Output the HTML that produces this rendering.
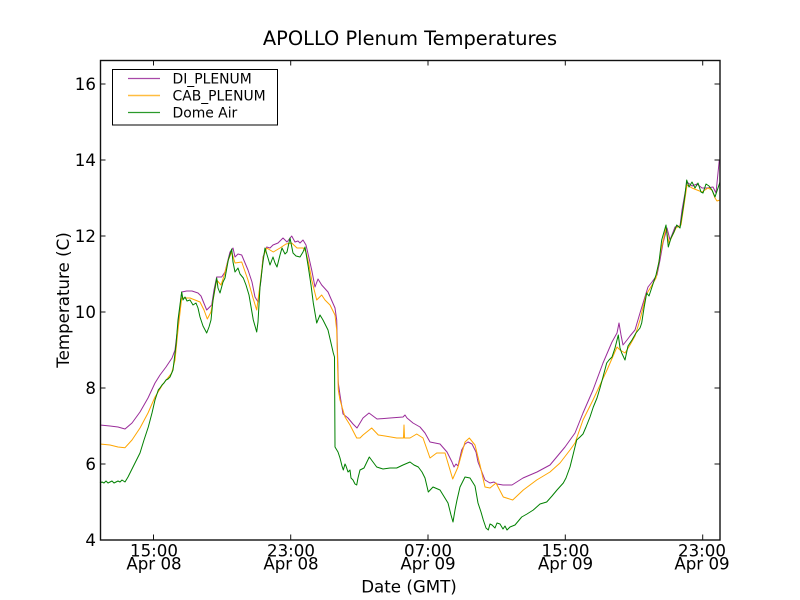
<!DOCTYPE html>
<html>
<head>
<meta charset="utf-8">
<style>
  html, body { margin: 0; padding: 0; background: #fff; }
  svg { display: block; }
  text { font-family: "DejaVu Sans", "Liberation Sans", sans-serif; fill: #000; }
</style>
</head>
<body>
<svg width="800" height="600" viewBox="0 0 800 600" xmlns="http://www.w3.org/2000/svg">
  <rect x="0" y="0" width="800" height="600" fill="#fff"/>

  <!-- Title -->
  <text x="410" y="45" font-size="19.4" text-anchor="middle">APOLLO Plenum Temperatures</text>

  <!-- Series -->
  <g fill="none" stroke-width="1" stroke-linejoin="round">
    <polyline stroke="#9a2c9a" points="100,425 110,426 118,427 125,429 132,423 140,412 148,398 155,383 160,375 166,367 172,358 175,350 178,325 181.7,292 186.7,291 192,291 198,293 201,296 206.7,310 211.7,305 214,290 216.7,277 221.7,277 225,272 230,252 233,248 235,257 238,254 241.7,255 248,270 252,282 255,297 258,302 261,280 263,257 266.7,247 270,248 273,245 278,243 283,238 287,242 291.7,236 295,242 298,241 300,243 303,240 306,245 309,258 311.7,270 315,287 318,279 321.7,285 328,292 335,308 336.7,320 338.3,383 340,395 343,414 348,418 353,424 357,428 360,423 363,418 369,413 377,419 390,418 403,417 405,415 407,418 413,423 420,427 425,433 430,442 440,444 447,452 452,462 454,467 456,464 458,466 461.7,450 465,444 468,442 472,444 476,452 478,462 485,480 490,483 494,482 497,484 503,485 512,485 523,478 537,472 550,465 560,453 565,447 570,440 575,433 583,413 593,390 603,363 612,342 617,333 619,323 621,335 623,345 627,340 630,336 635,330 640,313 644,300 648,287 652,282 657,275 660,260 663,243 667,228 670,240 675,227 680,226 682,210 687,182 692,186 697,184 702,188 707,188 713,187 716,193 719.3,160"/>
    <polyline stroke="#ffa500" points="100,444 110,445 118,447 125,447.7 132,440 140,428 148,413 155,397 163,384 171.7,373 175,360 178,330 181.7,298 190,298 200,302 204,310 207.3,319 211,312 214,295 216.7,280 221,285 224,276 228.3,260 231.7,252 235,263 241.7,262 248,280 253,298 256.7,310 260,285 263.3,257 266.7,248 273.3,252 280,248 286,244 291.7,243 297,248 303.3,248 306,252 309,265 311.7,280 316.7,300 321.7,295 325,300 330,305 335,315 336.7,330 338.3,390 340,400 345,417 350,425 356.7,438 360,438 363,435 371.7,428 378.3,435 385,436 396.7,438 403.5,438 404,425 404.5,438 410,438 416.7,434 423,438 430,458 436.7,453 445,453 452.7,479 458,467 465,442 469.3,438 475,445 480,465 485,487 490,488 496,483 503.3,497 512.7,500 523.3,490 536.7,480 550,472 560,463 570,450 575,443 583,420 593,400 607,370 617,347 620,350 625,353 630,345 635,336 640,320 646,295 652,285 656,278 661,250 666,228 669,243 676,228 681,225 684,205 687,185 692,188 697,190 702,192 708,188 712,190 715,198 717,201 720,200"/>
    <polyline stroke="#008000" points="100,483 102,482 104,483 106,481 108,483 110,482 112,481 114,483 116,482 118,481 120,482 122,480 125,482 128,477 130,473 135,463 140,453 144,440 148.3,427 152,413 155,400 158.3,390 160,388 162,385 164,383 166,380 168,379 170,377 173,370 176,345 178,320 181.7,292 183,300 185,297 187,301 190,300 193,305 196,303 198,308 200,317 203,326 206.7,333 209,327 211,320 213,300 216.7,278 218,288 220,293 223,282 225,278 228.3,260 231.7,249 233,262 235,272 238,268 240,274 243.3,278 246,285 249,295 253.3,320 256.7,332 258,322 260,287 263,262 265,248 268,258 270,265 273,257 275,263 277,267 280,255 282,248 285,254 287,252 290,238 293,253 296,256 300,257 303,252 305,247 308.3,267 311,285 313.3,303 316.7,323 320,315 323,320 328,330 333.3,353 334.5,357 335,447 338,452 340,458 342,466 343.3,470 345,464 346,466 348,472 350,470 351,478 353,480 355,484 356.7,485 358,478 360,470 364,468 369.3,457 373,462 376.7,467 383,469 390,468 396.7,468 403,465 410,462 414,465 418.3,467 422,472 425,478 428.3,492 433,487 440,490 448,503 451,515 453,522 455,510 457,500 460,487 465,477 470,478 475,486 478,503 481,512 483.3,520 485,525 486,528 488.3,530 490,524 492,525 495,528 497,523 500,524 503,529 505,526 507,530 510,527 515,525 521.7,517 527,514 533.3,510 540,504 546.7,502 552,496 557,490 563.3,483 566,478 570,467 573,455 576.7,440 580,437 583,434 586,427 590,417 593.3,407 597,398 600,388 603,377 606.7,363 609,360 612,357 615,348 618.3,335 620,348 621.7,353 625,360 628,346 632,340 636,333 640,328 641.7,323 644,308 646.7,293 649,296 653.3,283 656,275 659,262 661.7,240 664,232 666,225 668.3,247 671,238 674,232 676.7,225 680,228 683.3,207 685,195 686.7,180 689,187 692,182 695,188 698,183 701,192 703,193 706,184 709,186 712,190 715,197 718,188 720,182"/>
  </g>

  <!-- Axes frame -->
  <rect x="100.5" y="60.5" width="619.5" height="479.5" fill="none" stroke="#111" stroke-width="1.4"/>

  <!-- Ticks -->
  <g stroke="#111" stroke-width="1">
    <line x1="100" y1="540" x2="105.5" y2="540"/><line x1="720" y1="540" x2="714.5" y2="540"/>
    <line x1="100" y1="464" x2="105.5" y2="464"/><line x1="720" y1="464" x2="714.5" y2="464"/>
    <line x1="100" y1="388" x2="105.5" y2="388"/><line x1="720" y1="388" x2="714.5" y2="388"/>
    <line x1="100" y1="312" x2="105.5" y2="312"/><line x1="720" y1="312" x2="714.5" y2="312"/>
    <line x1="100" y1="236" x2="105.5" y2="236"/><line x1="720" y1="236" x2="714.5" y2="236"/>
    <line x1="100" y1="160" x2="105.5" y2="160"/><line x1="720" y1="160" x2="714.5" y2="160"/>
    <line x1="100" y1="84" x2="105.5" y2="84"/><line x1="720" y1="84" x2="714.5" y2="84"/>
    <line x1="153.5" y1="540" x2="153.5" y2="534.5"/><line x1="153.5" y1="60" x2="153.5" y2="65.5"/>
    <line x1="290.7" y1="540" x2="290.7" y2="534.5"/><line x1="290.7" y1="60" x2="290.7" y2="65.5"/>
    <line x1="428" y1="540" x2="428" y2="534.5"/><line x1="428" y1="60" x2="428" y2="65.5"/>
    <line x1="565.3" y1="540" x2="565.3" y2="534.5"/><line x1="565.3" y1="60" x2="565.3" y2="65.5"/>
    <line x1="702.7" y1="540" x2="702.7" y2="534.5"/><line x1="702.7" y1="60" x2="702.7" y2="65.5"/>
  </g>

  <!-- Y tick labels -->
  <g font-size="16.67" text-anchor="end">
    <text x="96" y="546">4</text>
    <text x="96" y="470">6</text>
    <text x="96" y="394">8</text>
    <text x="96" y="318">10</text>
    <text x="96" y="242">12</text>
    <text x="96" y="166">14</text>
    <text x="96" y="90">16</text>
  </g>

  <!-- X tick labels -->
  <g font-size="16.67" text-anchor="middle">
    <text x="154" y="556.5">15:00</text><text x="154" y="569.5">Apr 08</text>
    <text x="291" y="556.5">23:00</text><text x="291" y="569.5">Apr 08</text>
    <text x="428" y="556.5">07:00</text><text x="428" y="569.5">Apr 09</text>
    <text x="565.5" y="556.5">15:00</text><text x="565.5" y="569.5">Apr 09</text>
    <text x="702" y="556.5">23:00</text><text x="702" y="569.5">Apr 09</text>
  </g>

  <!-- Axis labels -->
  <text x="409" y="592.5" font-size="16.67" text-anchor="middle">Date (GMT)</text>
  <text transform="translate(69,300) rotate(-90)" font-size="16.67" text-anchor="middle">Temperature (C)</text>

  <!-- Legend -->
  <rect x="112.5" y="69.5" width="165" height="55.5" fill="#fff" stroke="#000" stroke-width="1"/>
  <line x1="128" y1="78.5" x2="160" y2="78.5" stroke="#a848a8" stroke-width="1.2"/>
  <line x1="128" y1="95.5" x2="160" y2="95.5" stroke="#ffbd40" stroke-width="1.4"/>
  <line x1="128" y1="112.5" x2="160" y2="112.5" stroke="#2a9a2a" stroke-width="1.2"/>
  <g font-size="13.9">
    <text x="172.5" y="83.5">DI_PLENUM</text>
    <text x="172.5" y="100.5">CAB_PLENUM</text>
    <text x="172.5" y="117.5">Dome Air</text>
  </g>
</svg>
</body>
</html>
